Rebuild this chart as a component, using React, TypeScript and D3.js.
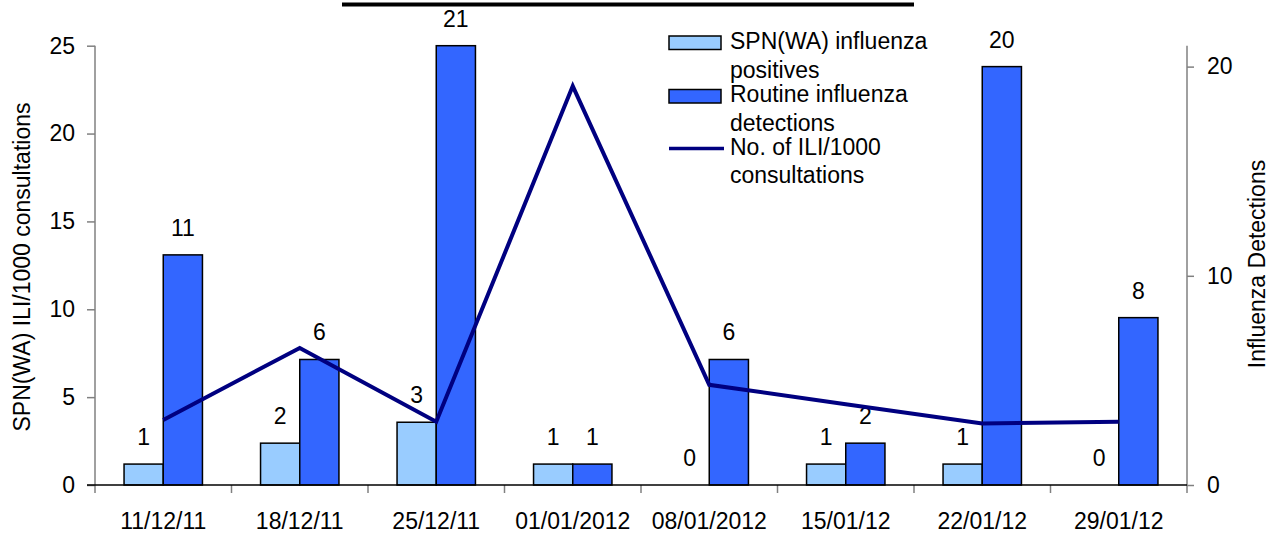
import React, { useEffect, useRef } from 'react';
import { select, scaleBand, scaleLinear, axisLeft, axisRight, axisBottom, line } from 'd3';

// weekly data
const categories = [
  '11/12/11',
  '18/12/11',
  '25/12/11',
  '01/01/2012',
  '08/01/2012',
  '15/01/12',
  '22/01/12',
  '29/01/12',
];
const spnPositives = [1, 2, 3, 1, 0, 1, 1, 0];
const routineDetections = [11, 6, 21, 1, 6, 2, 20, 8];
const iliRate = [3.7, 7.8, 3.6, 22.7, 5.7, 4.6, 3.5, 3.6];
const leftTicks = [0, 5, 10, 15, 20, 25];
const rightTicks = [0, 10, 20];
const seriesKeys = ['spn', 'routine'];
const legendLabels = [
  ['SPN(WA) influenza', 'positives'],
  ['Routine influenza', 'detections'],
  ['No. of ILI/1000', 'consultations'],
];

const colors = {
  spn: '#99CCFF',
  routine: '#3366FF',
  line: '#000080',
  axis: '#808080',
};

const FONT = '"Liberation Sans", Arial, sans-serif';
const W = 1276;
const H = 533;

const App = () => {
  const svgRef = useRef<SVGSVGElement>(null);

  useEffect(() => {
    const svg = select(svgRef.current);
    svg.selectAll('*').remove();

    const left = 95;
    const right = 1187;
    const top = 45.7;
    const bottom = 485;

    const x0 = scaleBand().domain(categories).range([left, right]);
    const bw = x0.bandwidth();
    const x1 = scaleBand().domain(seriesKeys).range([bw * 0.2128, bw * 0.7872]);
    const yLeft = scaleLinear().domain([0, 25]).range([bottom, top]);
    const yRight = scaleLinear().domain([0, 21]).range([bottom, top]);

    // title underline (title itself is cut off above)
    svg.append('line')
      .attr('x1', 342).attr('x2', 914)
      .attr('y1', 4.5).attr('y2', 4.5)
      .attr('stroke', '#000').attr('stroke-width', 4);

    // left axis
    const gLeft = svg.append('g')
      .attr('transform', `translate(${left},0)`)
      .call(axisLeft(yLeft).tickValues(leftTicks).tickSize(8).tickSizeOuter(0).tickPadding(12));
    gLeft.select('.domain').remove();
    gLeft.selectAll('.tick line').attr('stroke', colors.axis).attr('stroke-width', 1.5);
    gLeft.selectAll('.tick text')
      .attr('font-family', FONT).attr('font-size', 23).attr('fill', '#000');
    svg.append('line')
      .attr('x1', left).attr('x2', left).attr('y1', top).attr('y2', bottom + 8)
      .attr('stroke', colors.axis).attr('stroke-width', 1.5);

    // right axis
    const gRight = svg.append('g')
      .attr('transform', `translate(${right},0)`)
      .call(axisRight(yRight).tickValues(rightTicks).tickSize(7).tickSizeOuter(0).tickPadding(13));
    gRight.select('.domain').remove();
    gRight.selectAll('.tick line').attr('stroke', colors.axis).attr('stroke-width', 1.5);
    gRight.selectAll('.tick text')
      .attr('font-family', FONT).attr('font-size', 23).attr('fill', '#000');
    svg.append('line')
      .attr('x1', right).attr('x2', right).attr('y1', top).attr('y2', bottom + 8)
      .attr('stroke', colors.axis).attr('stroke-width', 1.5);

    // bottom axis: labels at band centres, ticks at band edges
    const gBottom = svg.append('g')
      .attr('transform', `translate(0,${bottom})`)
      .call(axisBottom(x0).tickSize(0).tickPadding(27.5));
    gBottom.select('.domain').remove();
    gBottom.selectAll('.tick text')
      .attr('font-family', FONT).attr('font-size', 23).attr('fill', '#000');
    svg.selectAll('.cat-tick')
      .data(categories.slice(1))
      .join('line')
      .attr('class', 'cat-tick')
      .attr('x1', (d) => x0(d)).attr('x2', (d) => x0(d))
      .attr('y1', bottom).attr('y2', bottom + 8)
      .attr('stroke', colors.axis).attr('stroke-width', 1.5);

    // bars
    const rows = categories.map((c, i) => ({
      name: c,
      values: [
        { key: 'spn', value: spnPositives[i] },
        { key: 'routine', value: routineDetections[i] },
      ],
    }));

    const groups = svg.selectAll('.group')
      .data(rows)
      .join('g')
      .attr('class', 'group')
      .attr('transform', (d) => `translate(${x0(d.name)},0)`);

    groups.selectAll('rect')
      .data((d) => d.values.filter((v) => v.value > 0))
      .join('rect')
      .attr('x', (d) => x1(d.key))
      .attr('width', x1.bandwidth())
      .attr('y', (d) => yRight(d.value))
      .attr('height', (d) => yRight(0) - yRight(d.value))
      .attr('fill', (d) => colors[d.key])
      .attr('stroke', '#000')
      .attr('stroke-width', 1.5);

    // x axis line on top of bar bottoms
    svg.append('line')
      .attr('x1', left - 8).attr('x2', right)
      .attr('y1', bottom).attr('y2', bottom)
      .attr('stroke', '#000').attr('stroke-width', 1.5);

    // ILI line
    const lineGen = line<number>()
      .x((_, i) => x0(categories[i]) + bw / 2)
      .y((d) => yLeft(d));
    svg.append('path')
      .datum(iliRate)
      .attr('d', lineGen)
      .attr('fill', 'none')
      .attr('stroke', colors.line)
      .attr('stroke-width', 4)
      .attr('stroke-linejoin', 'miter');

    // data labels
    groups.selectAll('.label')
      .data((d) => d.values)
      .join('text')
      .attr('class', 'label')
      .attr('x', (d) => x1(d.key) + x1.bandwidth() / 2)
      .attr('y', (d) => yRight(d.value) - 19)
      .attr('text-anchor', 'middle')
      .attr('font-family', FONT)
      .attr('font-size', 23)
      .text((d) => d.value);

    // axis titles
    svg.append('text')
      .attr('transform', 'translate(22,267) rotate(-90)')
      .attr('text-anchor', 'middle')
      .attr('dominant-baseline', 'central')
      .attr('font-family', FONT)
      .attr('font-size', 23)
      .text('SPN(WA) ILI/1000 consultations');
    svg.append('text')
      .attr('transform', 'translate(1257,264) rotate(-90)')
      .attr('text-anchor', 'middle')
      .attr('dominant-baseline', 'central')
      .attr('font-family', FONT)
      .attr('font-size', 23)
      .text('Influenza Detections');

    // legend
    const legend = svg.append('g').attr('transform', 'translate(669,0)');
    const swatchY = [36, 89.5];
    ['spn', 'routine'].forEach((k, i) => {
      legend.append('rect')
        .attr('x', 0).attr('y', swatchY[i])
        .attr('width', 52).attr('height', 13.5)
        .attr('fill', colors[k])
        .attr('stroke', '#000')
        .attr('stroke-width', 1.5);
    });
    legend.append('line')
      .attr('x1', 0).attr('x2', 55)
      .attr('y1', 148.5).attr('y2', 148.5)
      .attr('stroke', colors.line).attr('stroke-width', 3.5);
    const baselines = [[48.5, 78], [101.5, 131], [154.5, 182.5]];
    legendLabels.forEach((lines, i) => {
      lines.forEach((t, j) => {
        legend.append('text')
          .attr('x', 61)
          .attr('y', baselines[i][j])
          .attr('font-family', FONT)
          .attr('font-size', 23)
          .text(t);
      });
    });
  }, []);

  return (
    <svg
      ref={svgRef}
      width={W}
      height={H}
      style={{ position: 'absolute', left: 0, top: 0, background: '#fff' }}
    />
  );
};

export default App;
